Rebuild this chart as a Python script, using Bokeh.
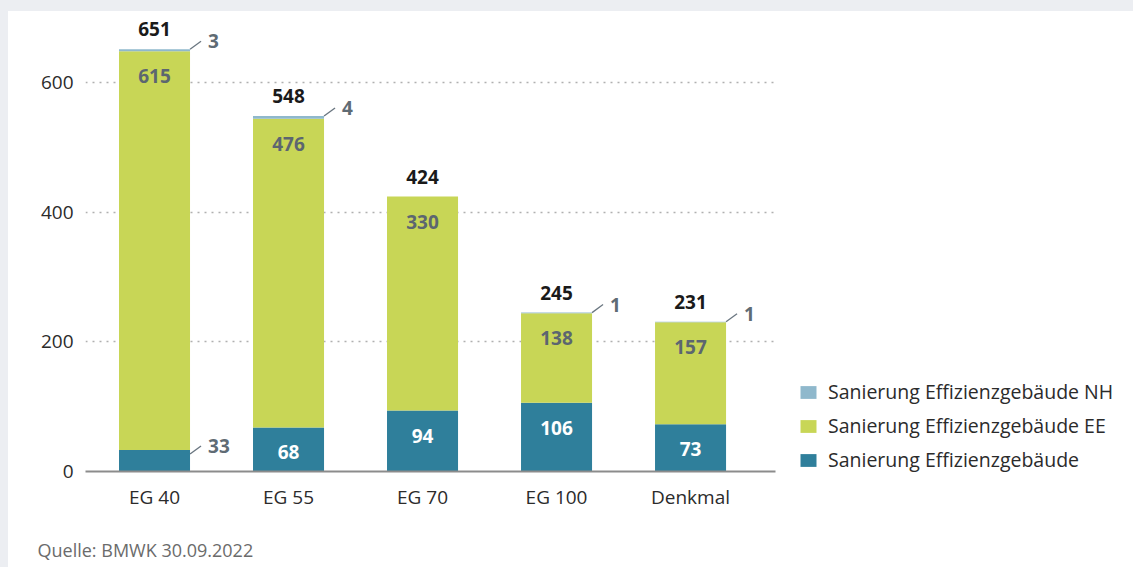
from bokeh.plotting import figure
from bokeh.models import (ColumnDataSource, Range1d, FixedTicker, Legend, LegendItem, Title)
from bokeh.core.properties import value
from bokeh.embed import file_html
from bokeh.resources import INLINE

categories = ["EG 40", "EG 55", "EG 70", "EG 100", "Denkmal"]
base_vals = [33, 68, 94, 106, 73]      # Sanierung Effizienzgebäude
ee_vals = [615, 476, 330, 138, 157]    # Sanierung Effizienzgebäude EE
nh_vals = [3, 4, 0, 1, 1]              # Sanierung Effizienzgebäude NH
totals = [651, 548, 424, 245, 231]
y_ticks = [0, 200, 400, 600]
source_text = "Quelle: BMWK 30.09.2022"

FONT = value("Open Sans")
C_BASE = "#2f7f9b"
C_EE = "#c8d656"
C_NH = "#8fb8cc"

xs = list(range(len(categories)))
src = ColumnDataSource(dict(x=xs, base=base_vals, ee=ee_vals, nh=nh_vals))

p = figure(frame_width=690, frame_height=454, output_backend="svg", toolbar_location=None,
           x_range=Range1d(-0.515, 4.634), y_range=Range1d(0, 700),
           min_border_left=85, min_border_right=0, min_border_top=17, min_border_bottom=0)
p.background_fill_color = "white"
p.border_fill_alpha = 0
p.outline_line_color = None
p.styles = {"background-color": "white", "box-shadow": "inset 8px 11px 0 0 #eceef2"}

BW = 0.53
rs = p.vbar_stack(["base", "ee", "nh"], x="x", width=BW, color=[C_BASE, C_EE, C_NH],
                  line_color=None, source=src)

# axes
p.xaxis.ticker = FixedTicker(ticks=xs)
p.xaxis.major_label_overrides = {i: c for i, c in enumerate(categories)}
p.yaxis.ticker = FixedTicker(ticks=y_ticks)
for ax in (p.xaxis, p.yaxis):
    ax.major_tick_line_color = None
    ax.minor_tick_line_color = None
    ax.major_label_text_font = "Open Sans"
    ax.major_label_text_font_size = "19px"
    ax.major_label_text_color = "#2b2b2b"
p.xaxis.axis_line_color = "#8c8c8c"
p.xaxis.axis_line_width = 2
p.xaxis.major_label_standoff = 6
p.yaxis.axis_line_color = None
p.yaxis.major_label_standoff = 6
p.xgrid.grid_line_color = None
p.ygrid.grid_line_color = "#b0b0b0"
p.ygrid.grid_line_dash = "2 5"
p.ygrid.grid_line_width = 1.5

# totals above
p.text(x=xs, y=totals, text=[str(t) for t in totals], text_font=FONT, text_font_style="bold",
       text_font_size="19px", text_color="#1a1a1a", text_align="center",
       text_baseline="middle", y_offset=-20)

# EE labels inside (near top of segment)
ee_top = [b + e for b, e in zip(base_vals, ee_vals)]
p.text(x=xs, y=ee_top, text=[str(v) for v in ee_vals], text_font=FONT, text_font_style="bold",
       text_font_size="19px", text_color="#5c6670", text_align="center",
       text_baseline="middle", y_offset=25)

# base labels inside (if room) else outside
in_x = [x for x, b in zip(xs, base_vals) if b >= 50]
in_b = [b for b in base_vals if b >= 50]
p.text(x=in_x, y=in_b, text=[str(v) for v in in_b], text_font=FONT, text_font_style="bold",
       text_font_size="19px", text_color="white", text_align="center",
       text_baseline="middle", y_offset=25)

# outside labels with leader lines
out_x, out_y, out_t = [], [], []
for x, b in zip(xs, base_vals):
    if b < 50:
        out_x.append(x); out_y.append(b - 6); out_t.append(str(b))
for x, t, n in zip(xs, totals, nh_vals):
    if n > 0:
        out_x.append(x); out_y.append(t); out_t.append(str(n))
dx_line = 11 / 134.0
dy_line = 8 / 0.648
p.segment(x0=[x + BW / 2 for x in out_x], y0=out_y,
          x1=[x + BW / 2 + dx_line for x in out_x], y1=[y + dy_line for y in out_y],
          line_color="#6a7680", line_width=1.3)
p.text(x=[x + BW / 2 + 18 / 134.0 for x in out_x], y=[y + dy_line for y in out_y], text=out_t,
       text_font=FONT, text_font_style="bold", text_font_size="19px", text_color="#5f6b74",
       text_align="left", text_baseline="middle", y_offset=0)

legend = Legend(items=[LegendItem(label="Sanierung Effizienzgebäude NH", renderers=[rs[2]]),
                       LegendItem(label="Sanierung Effizienzgebäude EE", renderers=[rs[1]]),
                       LegendItem(label="Sanierung Effizienzgebäude", renderers=[rs[0]])],
                location=(23, -2), padding=0, margin=0, spacing=7,
                glyph_width=20, glyph_height=16, label_height=20, label_standoff=10,
                label_text_font="Open Sans", label_text_font_size="19.5px",
                label_text_color="#2b2b2b", border_line_color=None, background_fill_alpha=0)
p.add_layout(legend, "right")

p.add_layout(Title(text=source_text, align="left", offset=-48, standoff=47,
                   text_font="Open Sans", text_font_size="18px", text_color="#6b6b6b",
                   text_font_style="normal"), "below")

open("out.html", "w").write(file_html(p, INLINE))
